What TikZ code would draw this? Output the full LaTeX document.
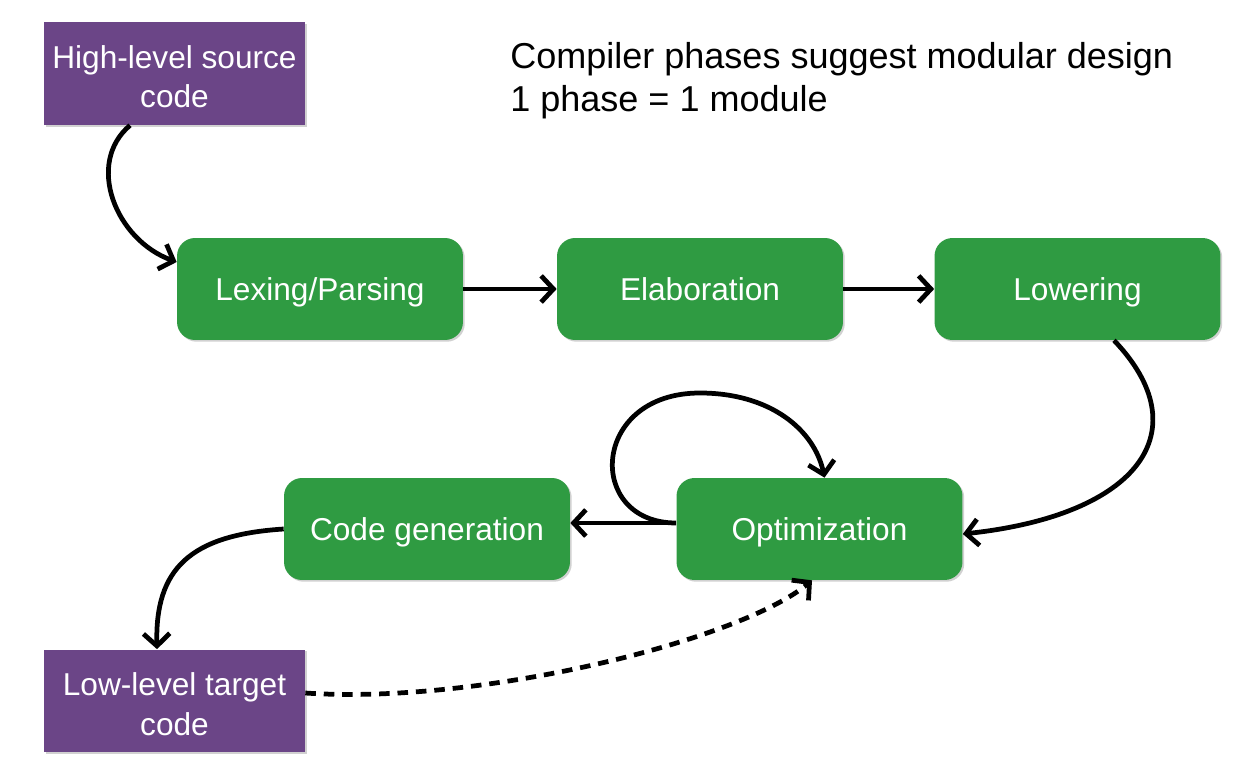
\documentclass[tikz,border=0pt]{standalone}
\usepackage{fontspec}
\setmainfont{Liberation Sans}
\usepackage{xcolor}
\definecolor{PhaseGreen}{RGB}{47,155,66}
\definecolor{CodePurple}{RGB}{107,69,135}
\usepackage{tikz}
\usetikzlibrary{arrows.meta,shadows}

\tikzset{
  phase/.style={fill=PhaseGreen, rounded corners=0.36cm, minimum width=5.72cm, minimum height=2.04cm,
    text=white, font=\fontsize{18}{22}\selectfont, text height=13pt, text depth=0pt,
    drop shadow={shadow xshift=1pt, shadow yshift=-1pt, opacity=0.3, fill=black!60}},
  endbox/.style={fill=CodePurple, minimum width=5.22cm, minimum height=2.06cm, inner sep=2pt,
    text=white, align=center, font=\fontsize{18}{22.5}\selectfont,
    drop shadow={shadow xshift=1pt, shadow yshift=-1pt, opacity=0.3, fill=black!60}},
  flow/.style={line width=2.7pt, -{Straight Barb[length=7pt,width=15pt]}},
}

\begin{document}
\begin{tikzpicture}[x=0.02cm, y=-0.02cm]
            \useasboundingbox (0,0) rectangle (1251,770);
            \node[anchor=north west, align=left, inner sep=0pt, font=\fontsize{20.5}{24.5}\selectfont] (title) at (510,42) {Compiler phases suggest modular design\\1 phase = 1 module};
            \node[endbox] (src) at (174.5,73.5) {\rule{0pt}{16.5pt}High-level source\\code};
            \node[phase] (lex) at (320,289) {Lexing/Parsing};
            \node[phase] (elab) at (700,289) {Elaboration};
            \node[phase] (lower) at (1077.5,289) {Lowering};
            \node[phase] (opt) at (819.5,529) {Optimization};
            \node[phase] (cg) at (427,529) {Code generation};
            \node[endbox] (tgt) at (174.5,701) {\rule{0pt}{16.5pt}Low-level target\\code};
            \coordinate (looptop) at (700,393);
            \draw[flow] ([xshift=-0.89cm]src.south) .. controls +(-45,38) and +(-61,-22) .. ([yshift=0.54cm]lex.west);
            \draw[flow] (lex) -- (elab);
            \draw[flow] (elab) -- (lower);
            \draw[flow] ([xshift=0.73cm]lower.south) .. controls +(86,90) and +(177,-19) .. ([yshift=-0.1cm]opt.east);
            \draw[flow] ([yshift=0.12cm]opt.west) -- ([yshift=0.12cm]cg.east);
            \draw[flow] ([yshift=0.12cm]opt.west) .. controls +(-91,0) and +(-110,0) .. (looptop)
                .. controls +(70,0) and +(-10,-48) .. ([xshift=0.1cm]opt.north);
            \draw[flow] (cg.west) .. controls +(-94,6) and +(-2,-80) .. ([xshift=-0.35cm]tgt.north);
            \draw[flow, dash pattern=on 6pt off 4.5pt] ([yshift=0.16cm]tgt.east) .. controls +(175,12) and +(-72,60) .. ([xshift=-0.15cm]opt.south);
        \end{tikzpicture}
\end{document}
